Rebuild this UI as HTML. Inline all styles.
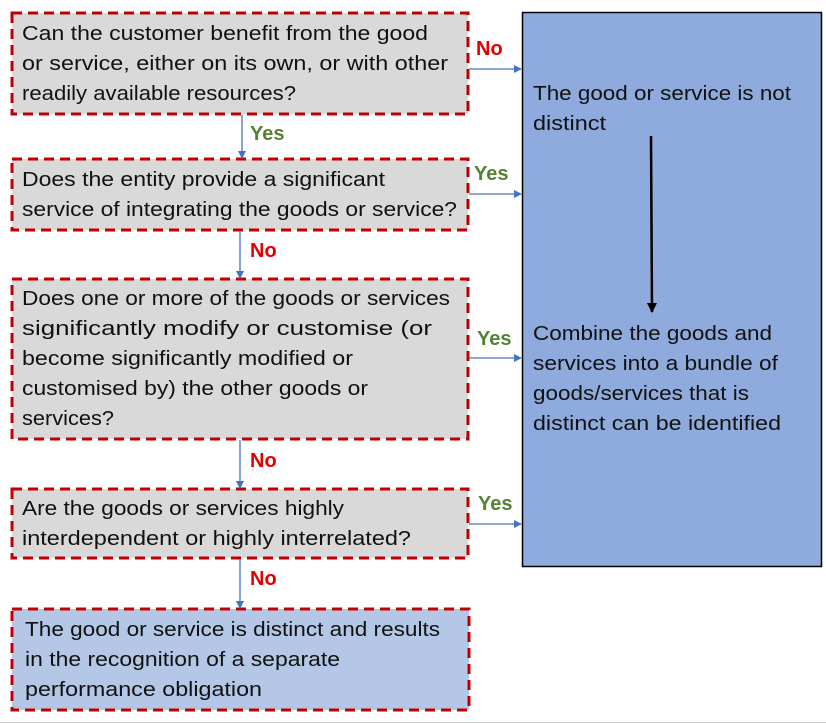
<!DOCTYPE html>
<html><head><meta charset="utf-8"><style>
body{margin:0;background:#fff;}
svg{display:block;}
text{font-family:"Liberation Sans",sans-serif;font-size:20px;fill:#111;}
.lb{font-weight:bold;font-size:20px;}
.no{fill:#e00000;}
.yes{fill:#548235;}
</style></head><body>
<svg width="826" height="724" viewBox="0 0 826 724" xmlns="http://www.w3.org/2000/svg">
<defs>
<marker id="ab" markerWidth="8" markerHeight="8" refX="7" refY="4" orient="auto" markerUnits="userSpaceOnUse"><path d="M0,0 L8,4 L0,8 z" fill="#4472c4"/></marker>
<marker id="ak" markerWidth="10" markerHeight="10" refX="9" refY="5" orient="auto" markerUnits="userSpaceOnUse"><path d="M0,0 L10,5 L0,10 z" fill="#000"/></marker>
</defs>
<rect x="522.5" y="12.5" width="299" height="554" fill="#8faadc" stroke="#000" stroke-width="1.5"/>
<g stroke="#c00000" stroke-width="3" stroke-dasharray="10,6">
<rect x="12" y="13" width="456" height="101" fill="#d9d9d9"/>
<rect x="12" y="159" width="456" height="71" fill="#d9d9d9"/>
<rect x="12" y="279" width="456" height="160" fill="#d9d9d9"/>
<rect x="12" y="489" width="456" height="69" fill="#d9d9d9"/>
<rect x="12" y="609" width="457" height="101" fill="#b4c7e7"/>
</g>
<g stroke="#4472c4" stroke-width="1.3" fill="none">
<line x1="242" y1="115" x2="242" y2="158" marker-end="url(#ab)"/>
<line x1="240" y1="231" x2="240" y2="278" marker-end="url(#ab)"/>
<line x1="240" y1="440" x2="240" y2="488" marker-end="url(#ab)"/>
<line x1="240" y1="559" x2="240" y2="608" marker-end="url(#ab)"/>
<line x1="469" y1="69" x2="521" y2="69" marker-end="url(#ab)"/>
<line x1="469" y1="194" x2="521" y2="194" marker-end="url(#ab)"/>
<line x1="469" y1="358" x2="521" y2="358" marker-end="url(#ab)"/>
<line x1="469" y1="524" x2="521" y2="524" marker-end="url(#ab)"/>
</g>
<line x1="651" y1="136" x2="652" y2="312" stroke="#000" stroke-width="2.5" marker-end="url(#ak)"/>
<line x1="0" y1="722.5" x2="826" y2="722.5" stroke="#c8c8c8" stroke-width="1"/>

<text x="22" y="40" textLength="406" lengthAdjust="spacingAndGlyphs">Can the customer benefit from the good</text>
<text x="22" y="70" textLength="426" lengthAdjust="spacingAndGlyphs">or service, either on its own, or with other</text>
<text x="22" y="100" textLength="274" lengthAdjust="spacingAndGlyphs">readily available resources?</text>

<text x="22" y="186" textLength="363" lengthAdjust="spacingAndGlyphs">Does the entity provide a significant</text>
<text x="22" y="216" textLength="435" lengthAdjust="spacingAndGlyphs">service of integrating the goods or service?</text>

<text x="22" y="305" textLength="428" lengthAdjust="spacingAndGlyphs">Does one or more of the goods or services</text>
<text x="22" y="335" textLength="410" lengthAdjust="spacingAndGlyphs">significantly modify or customise (or</text>
<text x="22" y="365" textLength="331" lengthAdjust="spacingAndGlyphs">become significantly modified or</text>
<text x="22" y="395" textLength="346" lengthAdjust="spacingAndGlyphs">customised by) the other goods or</text>
<text x="22" y="425" textLength="92" lengthAdjust="spacingAndGlyphs">services?</text>

<text x="22" y="515" textLength="322" lengthAdjust="spacingAndGlyphs">Are the goods or services highly</text>
<text x="22" y="545" textLength="389" lengthAdjust="spacingAndGlyphs">interdependent or highly interrelated?</text>

<text x="25" y="636" textLength="415" lengthAdjust="spacingAndGlyphs">The good or service is distinct and results</text>
<text x="25" y="666" textLength="315" lengthAdjust="spacingAndGlyphs">in the recognition of a separate</text>
<text x="25" y="696" textLength="237" lengthAdjust="spacingAndGlyphs">performance obligation</text>

<text x="533" y="100" textLength="258" lengthAdjust="spacingAndGlyphs">The good or service is not</text>
<text x="533" y="130" textLength="73" lengthAdjust="spacingAndGlyphs">distinct</text>
<text x="533" y="340" textLength="239" lengthAdjust="spacingAndGlyphs">Combine the goods and</text>
<text x="533" y="370" textLength="245" lengthAdjust="spacingAndGlyphs">services into a bundle of</text>
<text x="533" y="400" textLength="216" lengthAdjust="spacingAndGlyphs">goods/services that is</text>
<text x="533" y="430" textLength="248" lengthAdjust="spacingAndGlyphs">distinct can be identified</text>

<text class="lb no" x="476" y="55">No</text>
<text class="lb yes" x="250" y="140">Yes</text>
<text class="lb yes" x="474" y="180">Yes</text>
<text class="lb no" x="250" y="257">No</text>
<text class="lb yes" x="477" y="345">Yes</text>
<text class="lb no" x="250" y="467">No</text>
<text class="lb yes" x="478" y="510">Yes</text>
<text class="lb no" x="250" y="585">No</text>
</svg>
</body></html>
